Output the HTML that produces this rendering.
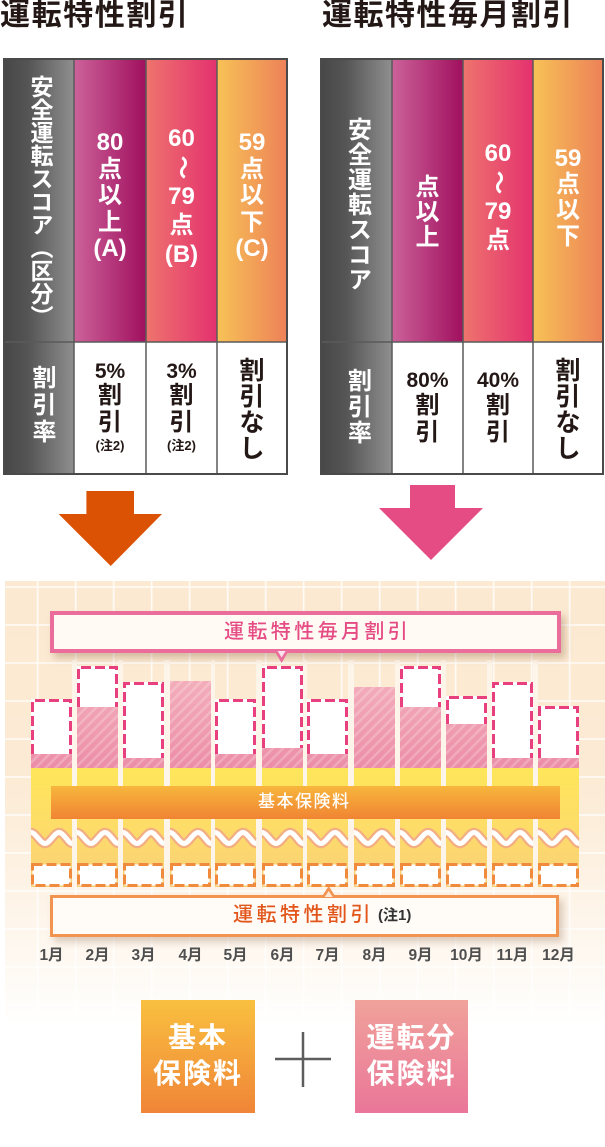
<!DOCTYPE html>
<html><head><meta charset="utf-8">
<style>
*{margin:0;padding:0;box-sizing:border-box}
html,body{width:605px;height:1147px;overflow:hidden;background:#fff}
body{position:relative;font-family:"Liberation Sans","Noto Sans CJK JP",sans-serif}
.a{position:absolute}
.t{position:absolute;text-align:center;color:#fff;font-weight:700;white-space:nowrap}
.t div{white-space:nowrap}
.v{position:absolute;writing-mode:vertical-rl;color:#fff;font-weight:700;font-size:23px;line-height:24px;white-space:nowrap}
.d{color:#231815}
.til{display:inline-block;transform:rotate(90deg)}
.m{position:absolute;width:60px;text-align:center;font-size:15.5px;line-height:18px;font-weight:700;color:#4f4f4f;top:947px}
</style></head><body>

<svg class="a" style="left:0;top:0" width="605" height="1147" viewBox="0 0 605 1147">
<defs>
 <linearGradient id="g0" x1="0" y1="0" x2="1" y2="0"><stop offset="0" stop-color="#474747"/><stop offset="0.35" stop-color="#555"/><stop offset="1" stop-color="#8f8f8f"/></linearGradient>
 <linearGradient id="gA" x1="0" y1="0" x2="1" y2="0"><stop offset="0" stop-color="#CC629A"/><stop offset="1" stop-color="#A0105E"/></linearGradient>
 <linearGradient id="gB" x1="0" y1="0" x2="1" y2="0"><stop offset="0" stop-color="#EE746D"/><stop offset="1" stop-color="#E4316F"/></linearGradient>
 <linearGradient id="gC" x1="0" y1="0" x2="1" y2="0"><stop offset="0" stop-color="#F7C256"/><stop offset="1" stop-color="#ED8158"/></linearGradient>
 <linearGradient id="pinkG" gradientUnits="userSpaceOnUse" x1="0" y1="666" x2="0" y2="768"><stop offset="0" stop-color="#F4B3BE"/><stop offset="1" stop-color="#EC8DA7"/></linearGradient>
 <pattern id="stripe" patternUnits="userSpaceOnUse" width="7" height="7" patternTransform="rotate(45)"><rect x="0" y="0" width="2.5" height="7" fill="#fff" fill-opacity="0.22"/></pattern>
 <linearGradient id="yelG" gradientUnits="userSpaceOnUse" x1="0" y1="768" x2="0" y2="887"><stop offset="0" stop-color="#FEE65A"/><stop offset="0.5" stop-color="#FDDC68"/><stop offset="1" stop-color="#F9CF7A"/></linearGradient>
 <linearGradient id="bandG" x1="0" y1="0" x2="0" y2="1"><stop offset="0" stop-color="#F8B63C"/><stop offset="1" stop-color="#F08433"/></linearGradient>
 <pattern id="grid" patternUnits="userSpaceOnUse" x="36.7" y="586" width="38" height="38"><path d="M0,1 H38 M1,0 V38" stroke="#fff" stroke-width="1.6" stroke-opacity="0.85" fill="none"/></pattern>
 <linearGradient id="fade" gradientUnits="userSpaceOnUse" x1="0" y1="581" x2="0" y2="1025">
  <stop offset="0" stop-color="#fff" stop-opacity="0"/>
  <stop offset="0.45" stop-color="#fff" stop-opacity="0.08"/>
  <stop offset="0.72" stop-color="#fff" stop-opacity="0.5"/>
  <stop offset="0.86" stop-color="#fff" stop-opacity="0.72"/>
  <stop offset="0.95" stop-color="#fff" stop-opacity="0.9"/>
  <stop offset="1" stop-color="#fff" stop-opacity="1"/>
 </linearGradient>
 <path id="wave" d="M0,-5.5 C4.7,-5.5 9.3,5.5 14,5.5 C18.7,5.5 23.3,-5.5 28,-5.5 C32.7,-5.5 37.3,5.5 41,5.5"/>
</defs>

<!-- left table -->
<rect x="4" y="59" width="70" height="415" fill="url(#g0)"/>
<rect x="74" y="59" width="72" height="283" fill="url(#gA)"/>
<rect x="146" y="59" width="71" height="283" fill="url(#gB)"/>
<rect x="217" y="59" width="70" height="283" fill="url(#gC)"/>
<g stroke="#5a5a5a" stroke-width="1.5">
 <line x1="74" y1="59" x2="74" y2="474"/><line x1="146" y1="59" x2="146" y2="474"/><line x1="217" y1="59" x2="217" y2="474"/>
 <line x1="4" y1="342" x2="287" y2="342"/>
</g>
<rect x="4" y="59" width="283" height="415" fill="none" stroke="#4a4a4a" stroke-width="2"/>

<!-- right table -->
<rect x="321" y="59" width="71" height="415" fill="url(#g0)"/>
<rect x="392" y="59" width="71" height="283" fill="url(#gA)"/>
<rect x="463" y="59" width="70" height="283" fill="url(#gB)"/>
<rect x="533" y="59" width="70" height="283" fill="url(#gC)"/>
<g stroke="#5a5a5a" stroke-width="1.5">
 <line x1="392" y1="59" x2="392" y2="474"/><line x1="463" y1="59" x2="463" y2="474"/><line x1="533" y1="59" x2="533" y2="474"/>
 <line x1="321" y1="342" x2="603" y2="342"/>
</g>
<rect x="321" y="59" width="282" height="415" fill="none" stroke="#4a4a4a" stroke-width="2"/>

<!-- arrows -->
<polygon points="86.4,491 134,491 134,514 162,514 110.7,566 58.6,514 86.4,514" fill="#DC5204"/>
<polygon points="410,485 455,485 455,508 483,508 431,560 379,508 410,508" fill="#E64C84"/>

<!-- chart background -->
<rect x="5" y="581" width="600" height="450" fill="#FCE9D1"/>
<rect x="5" y="581" width="600" height="450" fill="url(#grid)"/>
<rect x="5" y="581" width="600" height="450" fill="url(#fade)"/>

<!-- gap strips -->
<g fill="#FEF5EA">
 <rect x="72" y="660" width="5" height="227"/><rect x="118" y="660" width="5" height="227"/><rect x="164" y="660" width="6" height="227"/>
 <rect x="211" y="660" width="4" height="227"/><rect x="256" y="660" width="6" height="227"/><rect x="303" y="660" width="4" height="227"/>
 <rect x="348" y="660" width="6" height="227"/><rect x="395" y="660" width="5" height="227"/><rect x="441" y="660" width="5" height="227"/>
 <rect x="487" y="660" width="5" height="227"/><rect x="533" y="660" width="5" height="227"/>
</g>

<!-- yellow base -->
<g fill="url(#yelG)">
 <rect x="31" y="768" width="41" height="119"/><rect x="77" y="768" width="41" height="119"/><rect x="123" y="768" width="41" height="119"/>
 <rect x="170" y="768" width="41" height="119"/><rect x="215" y="768" width="41" height="119"/><rect x="262" y="768" width="41" height="119"/>
 <rect x="307" y="768" width="41" height="119"/><rect x="354" y="768" width="41" height="119"/><rect x="400" y="768" width="41" height="119"/>
 <rect x="446" y="768" width="41" height="119"/><rect x="492" y="768" width="41" height="119"/><rect x="538" y="768" width="41" height="119"/>
</g>

<!-- pink segments -->
<g>
 <rect x="31" y="754" width="41" height="14" fill="url(#pinkG)"/>
 <rect x="77" y="707" width="41" height="61" fill="url(#pinkG)"/>
 <rect x="123" y="758" width="41" height="10" fill="url(#pinkG)"/>
 <rect x="170" y="681" width="41" height="87" fill="url(#pinkG)"/>
 <rect x="215" y="754" width="41" height="14" fill="url(#pinkG)"/>
 <rect x="262" y="748" width="41" height="20" fill="url(#pinkG)"/>
 <rect x="307" y="754" width="41" height="14" fill="url(#pinkG)"/>
 <rect x="354" y="687" width="41" height="81" fill="url(#pinkG)"/>
 <rect x="400" y="707" width="41" height="61" fill="url(#pinkG)"/>
 <rect x="446" y="724" width="41" height="44" fill="url(#pinkG)"/>
 <rect x="492" y="758" width="41" height="10" fill="url(#pinkG)"/>
 <rect x="538" y="758" width="41" height="10" fill="url(#pinkG)"/>
</g>
<g fill="url(#stripe)">
 <rect x="31" y="754" width="41" height="14"/><rect x="77" y="707" width="41" height="61"/><rect x="123" y="758" width="41" height="10"/>
 <rect x="170" y="681" width="41" height="87"/><rect x="215" y="754" width="41" height="14"/><rect x="262" y="748" width="41" height="20"/>
 <rect x="307" y="754" width="41" height="14"/><rect x="354" y="687" width="41" height="81"/><rect x="400" y="707" width="41" height="61"/>
 <rect x="446" y="724" width="41" height="44"/><rect x="492" y="758" width="41" height="10"/><rect x="538" y="758" width="41" height="10"/>
</g>

<!-- white dashed boxes (monthly) -->
<g fill="#fff">
 <rect x="31" y="699" width="41" height="55"/><rect x="77" y="666" width="41" height="41"/><rect x="123" y="682" width="41" height="76"/>
 <rect x="215" y="699" width="41" height="55"/><rect x="262" y="666" width="41" height="82"/><rect x="307" y="699" width="41" height="55"/>
 <rect x="400" y="666" width="41" height="41"/><rect x="446" y="696" width="41" height="28"/><rect x="492" y="682" width="41" height="76"/>
 <rect x="538" y="706" width="41" height="52"/>
</g>
<g fill="none" stroke="#E8407E" stroke-width="3" stroke-dasharray="10 4">
 <path d="M32.5,754 V700.5 H70.5 V754"/>
 <path d="M78.5,707 V667.5 H116.5 V707"/>
 <path d="M124.5,758 V683.5 H162.5 V758"/>
 <path d="M216.5,754 V700.5 H254.5 V754"/>
 <path d="M263.5,748 V667.5 H301.5 V748"/>
 <path d="M308.5,754 V700.5 H346.5 V754"/>
 <path d="M401.5,707 V667.5 H439.5 V707"/>
 <path d="M447.5,724 V697.5 H485.5 V724"/>
 <path d="M493.5,758 V683.5 H531.5 V758"/>
 <path d="M539.5,758 V707.5 H577.5 V758"/>
</g>

<!-- base band -->
<rect x="51" y="786" width="509" height="33" fill="url(#bandG)"/>

<!-- waves -->
<g fill="none" stroke="#F3AE84" stroke-width="9.5">
 <use href="#wave" transform="translate(31,838)"/><use href="#wave" transform="translate(77,838)"/><use href="#wave" transform="translate(123,838)"/>
 <use href="#wave" transform="translate(170,838)"/><use href="#wave" transform="translate(215,838)"/><use href="#wave" transform="translate(262,838)"/>
 <use href="#wave" transform="translate(307,838)"/><use href="#wave" transform="translate(354,838)"/><use href="#wave" transform="translate(400,838)"/>
 <use href="#wave" transform="translate(446,838)"/><use href="#wave" transform="translate(492,838)"/><use href="#wave" transform="translate(538,838)"/>
</g>
<g fill="none" stroke="#fff" stroke-width="5">
 <use href="#wave" transform="translate(31,838)"/><use href="#wave" transform="translate(77,838)"/><use href="#wave" transform="translate(123,838)"/>
 <use href="#wave" transform="translate(170,838)"/><use href="#wave" transform="translate(215,838)"/><use href="#wave" transform="translate(262,838)"/>
 <use href="#wave" transform="translate(307,838)"/><use href="#wave" transform="translate(354,838)"/><use href="#wave" transform="translate(400,838)"/>
 <use href="#wave" transform="translate(446,838)"/><use href="#wave" transform="translate(492,838)"/><use href="#wave" transform="translate(538,838)"/>
</g>

<!-- bottom dashed boxes -->
<g fill="#fff" stroke="#F08A3C" stroke-width="3" stroke-dasharray="10 4">
 <rect x="32.5" y="864.5" width="38" height="21"/><rect x="78.5" y="864.5" width="38" height="21"/><rect x="124.5" y="864.5" width="38" height="21"/>
 <rect x="171.5" y="864.5" width="38" height="21"/><rect x="216.5" y="864.5" width="38" height="21"/><rect x="263.5" y="864.5" width="38" height="21"/>
 <rect x="308.5" y="864.5" width="38" height="21"/><rect x="355.5" y="864.5" width="38" height="21"/><rect x="401.5" y="864.5" width="38" height="21"/>
 <rect x="447.5" y="864.5" width="38" height="21"/><rect x="493.5" y="864.5" width="38" height="21"/><rect x="539.5" y="864.5" width="38" height="21"/>
</g>

<!-- plus -->
<g stroke="#5d5d5d" stroke-width="2.5">
 <line x1="275" y1="1059" x2="331" y2="1059"/><line x1="303" y1="1032" x2="303" y2="1087"/>
</g>
</svg>

<!-- titles -->
<div class="a d" style="left:0;top:1px;font-size:30px;line-height:30px;font-weight:700;letter-spacing:1.6px;white-space:nowrap">運転特性割引</div>
<div class="a d" style="left:322px;top:1px;font-size:30px;line-height:30px;font-weight:700;letter-spacing:1.5px;white-space:nowrap">運転特性毎月割引</div>

<!-- left table texts -->
<div class="v" style="left:28px;top:75px">安全運転スコア（区分）</div>
<div class="t" style="left:74px;width:72px;top:130px;font-size:24px;line-height:26.5px"><div>80</div><div>点</div><div>以</div><div>上</div><div>(A)</div></div>
<div class="t" style="left:146px;width:71px;top:123.5px;font-size:24px;line-height:29px"><div>60</div><div><span class="til">〜</span></div><div>79</div><div>点</div><div>(B)</div></div>
<div class="t" style="left:217px;width:70px;top:130px;font-size:24px;line-height:26.5px"><div>59</div><div>点</div><div>以</div><div>下</div><div>(C)</div></div>

<div class="v" style="left:29px;top:365px;letter-spacing:3px;font-size:24px">割引率</div>
<div class="t d" style="left:74px;width:72px;top:361px;font-size:24px"><div style="font-size:21px;line-height:21px">5%</div><div style="line-height:27px">割</div><div style="line-height:28px">引</div><div style="font-size:13px;line-height:18px">(注2)</div></div>
<div class="t d" style="left:146px;width:71px;top:361px;font-size:24px"><div style="font-size:21px;line-height:21px">3%</div><div style="line-height:27px">割</div><div style="line-height:28px">引</div><div style="font-size:13px;line-height:18px">(注2)</div></div>
<div class="t d" style="left:217px;width:70px;top:358px;font-size:25px;line-height:26px"><div>割</div><div>引</div><div>な</div><div>し</div></div>

<!-- right table texts -->
<div class="v" style="left:344.5px;top:117px;font-size:24px;letter-spacing:1px">安全運転スコア</div>
<div class="t" style="left:392px;width:71px;top:175px;font-size:24px;line-height:25px"><div>点</div><div>以</div><div>上</div></div>
<div class="t" style="left:463px;width:70px;top:138.5px;font-size:24px;line-height:29px"><div>60</div><div><span class="til">〜</span></div><div>79</div><div>点</div></div>
<div class="t" style="left:533px;width:70px;top:145.5px;font-size:24px;line-height:26.3px"><div>59</div><div>点</div><div>以</div><div>下</div></div>

<div class="v" style="left:344.5px;top:368px;letter-spacing:2px;font-size:24px">割引率</div>
<div class="t d" style="left:392px;width:71px;top:369px;font-size:24px"><div style="font-size:21px;line-height:23px">80%</div><div style="line-height:27px">割</div><div style="line-height:27px">引</div></div>
<div class="t d" style="left:463px;width:70px;top:369px;font-size:24px"><div style="font-size:21px;line-height:23px">40%</div><div style="line-height:27px">割</div><div style="line-height:27px">引</div></div>
<div class="t d" style="left:533px;width:70px;top:358px;font-size:25px;line-height:26px"><div>割</div><div>引</div><div>な</div><div>し</div></div>

<!-- band text -->
<div class="a" style="left:258px;top:792px;font-size:17px;line-height:20px;letter-spacing:1.5px;color:#fff;font-weight:500;white-space:nowrap">基本保険料</div>

<!-- top callout -->
<div class="a" style="left:50px;top:611px;width:511px;height:42px;border:4px solid #EA6D9C;background:#FFFAF4;box-shadow:4px 5px 7px rgba(140,100,70,0.35)"></div>
<svg class="a" style="left:272px;top:650px" width="20" height="14" viewBox="272 650 20 14"><polygon points="274.6,651 288.6,651 281.6,663" fill="#EA6D9C"/><polygon points="277.6,651 285.6,651 281.6,657.5" fill="#FDE3EC"/></svg>
<div class="a" style="left:224px;top:620px;font-size:20px;line-height:24px;letter-spacing:3.4px;color:#E64C84;font-weight:500;white-space:nowrap">運転特性毎月割引</div>

<!-- bottom callout -->
<div class="a" style="left:50px;top:895px;width:509px;height:42px;border:3.5px solid #F2934F;background:#FFFCF8;box-shadow:4px 5px 7px rgba(140,100,70,0.3)"></div>
<svg class="a" style="left:319px;top:885px" width="20" height="14" viewBox="319 885 20 14"><polygon points="321.7,897 335.7,897 328.7,886" fill="#F2934F"/><polygon points="324.7,897 332.7,897 328.7,891" fill="#FDE7D6"/></svg>
<div class="a" style="left:233px;top:903px;font-size:20px;line-height:24px;letter-spacing:3.5px;color:#E2561B;font-weight:500;white-space:nowrap">運転特性割引</div>
<div class="a" style="left:378px;top:906px;font-size:15px;line-height:20px;color:#333;font-weight:700;white-space:nowrap">(注1)</div>

<!-- month labels -->
<div class="m" style="left:21.5px">1月</div>
<div class="m" style="left:67.5px">2月</div>
<div class="m" style="left:113.5px">3月</div>
<div class="m" style="left:160.5px">4月</div>
<div class="m" style="left:205.5px">5月</div>
<div class="m" style="left:252.5px">6月</div>
<div class="m" style="left:297.5px">7月</div>
<div class="m" style="left:344.5px">8月</div>
<div class="m" style="left:390.5px">9月</div>
<div class="m" style="left:436.5px">10月</div>
<div class="m" style="left:482.5px">11月</div>
<div class="m" style="left:528.5px">12月</div>

<!-- bottom boxes -->
<div class="a" style="left:141px;top:1000px;width:114px;height:113px;background:linear-gradient(180deg,#F9C03F,#F08538)"></div>
<div class="t" style="left:141px;width:114px;top:1020px;font-size:28px;line-height:36px;letter-spacing:2px"><div>基本</div><div>保険料</div></div>
<div class="a" style="left:355px;top:1000px;width:113px;height:113px;background:linear-gradient(180deg,#F0A29A,#EA7699)"></div>
<div class="t" style="left:355px;width:113px;top:1020px;font-size:28px;line-height:36px;letter-spacing:2px"><div>運転分</div><div>保険料</div></div>

</body></html>
